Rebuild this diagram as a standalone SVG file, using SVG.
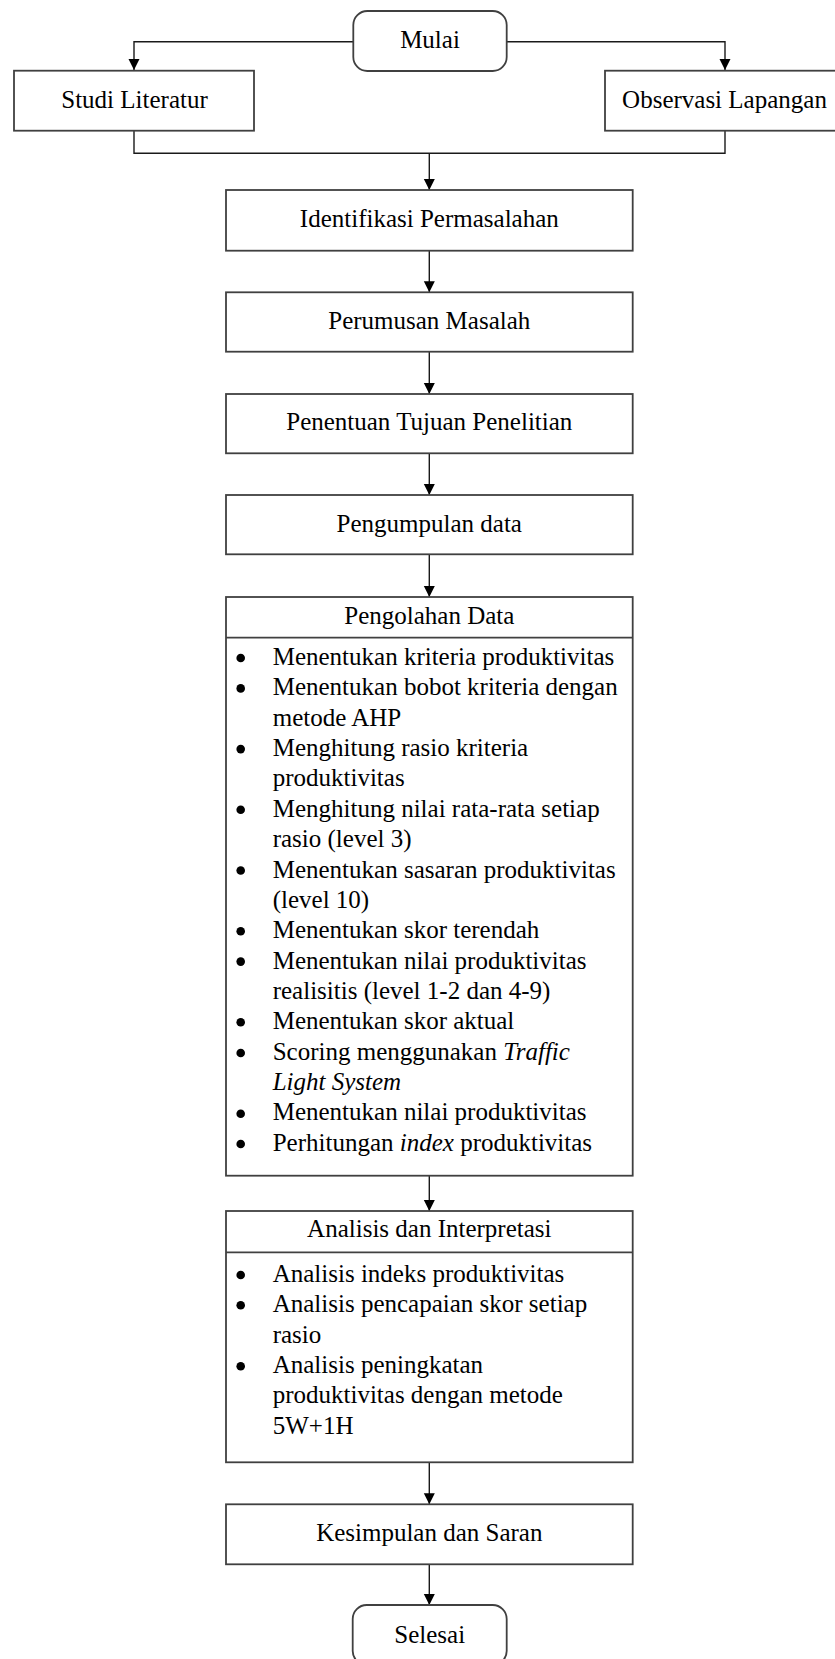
<svg xmlns="http://www.w3.org/2000/svg" width="835" height="1659" viewBox="0 0 835 1659" font-family="Liberation Serif, Times New Roman, DejaVu Serif, serif" font-size="25">
<style>
.box{fill:#fff;stroke:#404040;stroke-width:1.8}
.ln{fill:none;stroke:#1a1a1a;stroke-width:1.4}
text{fill:#000}
.c{text-anchor:middle}
.b{fill:#000}
</style>
<defs>
<marker id="ah" markerUnits="userSpaceOnUse" markerWidth="12" markerHeight="12" viewBox="0 0 12 12" refX="11" refY="6" orient="auto">
<path d="M0,0.5 L11,6 L0,11.5 Z" fill="#000"/>
</marker>
</defs>
<rect width="835" height="1659" fill="#fff"/>
<g id="connectors">
<path class="ln" d="M354 41.7 H134 V70" marker-end="url(#ah)"/>
<path class="ln" d="M506.7 41.7 H725 V70" marker-end="url(#ah)"/>
<path class="ln" d="M134 130.7 V153.3 H725 V130.7"/>
<path class="ln" d="M429.3 153.3 V190" marker-end="url(#ah)"/>
<path class="ln" d="M429.3 250.7 V292.3" marker-end="url(#ah)"/>
<path class="ln" d="M429.3 351.7 V394" marker-end="url(#ah)"/>
<path class="ln" d="M429.3 453.3 V495" marker-end="url(#ah)"/>
<path class="ln" d="M429.3 554.3 V597" marker-end="url(#ah)"/>
<path class="ln" d="M429.3 1175.7 V1211" marker-end="url(#ah)"/>
<path class="ln" d="M429.3 1462.3 V1504.3" marker-end="url(#ah)"/>
<path class="ln" d="M429.3 1564.3 V1605" marker-end="url(#ah)"/>
</g>
<g id="mulai">
<rect class="box" x="353.3" y="11" width="153.4" height="60" rx="14"/>
<text class="c" x="430" y="48.3">Mulai</text>
</g>
<g id="studi-literatur">
<rect class="box" x="14" y="70.7" width="240" height="60"/>
<text class="c" x="134.5" y="108.3">Studi Literatur</text>
</g>
<g id="observasi-lapangan">
<rect class="box" x="605" y="70.7" width="240" height="60"/>
<text class="c" x="724.5" y="108.3">Observasi Lapangan</text>
</g>
<g id="identifikasi">
<rect class="box" x="226" y="190" width="406.7" height="60.7"/>
<text class="c" x="429.3" y="226.7">Identifikasi Permasalahan</text>
</g>
<g id="perumusan">
<rect class="box" x="226" y="292.3" width="406.7" height="59.4"/>
<text class="c" x="429.3" y="328.5">Perumusan Masalah</text>
</g>
<g id="penentuan">
<rect class="box" x="226" y="394" width="406.7" height="59.3"/>
<text class="c" x="429.3" y="430.3">Penentuan Tujuan Penelitian</text>
</g>
<g id="pengumpulan">
<rect class="box" x="226" y="495" width="406.7" height="59.3"/>
<text class="c" x="429.3" y="532">Pengumpulan data</text>
</g>
<g id="pengolahan">
<rect class="box" x="226" y="597" width="406.7" height="578.7"/>
<line class="box" x1="226" y1="637.7" x2="632.7" y2="637.7"/>
<text class="c" x="429.3" y="624">Pengolahan Data</text>
<g class="b">
<circle cx="240.7" cy="658" r="4.3"/>
<circle cx="240.7" cy="688.4" r="4.3"/>
<circle cx="240.7" cy="749.1" r="4.3"/>
<circle cx="240.7" cy="809.8" r="4.3"/>
<circle cx="240.7" cy="870.5" r="4.3"/>
<circle cx="240.7" cy="931.2" r="4.3"/>
<circle cx="240.7" cy="961.6" r="4.3"/>
<circle cx="240.7" cy="1022.3" r="4.3"/>
<circle cx="240.7" cy="1053" r="4.3"/>
<circle cx="240.7" cy="1113.7" r="4.3"/>
<circle cx="240.7" cy="1144" r="4.3"/>
</g>
<text x="272.7" y="665">Menentukan kriteria produktivitas</text>
<text x="272.7" y="695.4">Menentukan bobot kriteria dengan</text>
<text x="272.7" y="725.7">metode AHP</text>
<text x="272.7" y="756.1">Menghitung rasio kriteria</text>
<text x="272.7" y="786.4">produktivitas</text>
<text x="272.7" y="816.8">Menghitung nilai rata-rata setiap</text>
<text x="272.7" y="847.2">rasio (level 3)</text>
<text x="272.7" y="877.5">Menentukan sasaran produktivitas</text>
<text x="272.7" y="907.9">(level 10)</text>
<text x="272.7" y="938.2">Menentukan skor terendah</text>
<text x="272.7" y="968.6">Menentukan nilai produktivitas</text>
<text x="272.7" y="999">realisitis (level 1-2 dan 4-9)</text>
<text x="272.7" y="1029.3">Menentukan skor aktual</text>
<text x="272.7" y="1059.7">Scoring menggunakan <tspan font-style="italic">Traffic</tspan></text>
<text x="272.7" y="1090" font-style="italic">Light System</text>
<text x="272.7" y="1120.4">Menentukan nilai produktivitas</text>
<text x="272.7" y="1150.7">Perhitungan <tspan font-style="italic">index</tspan> produktivitas</text>
</g>
<g id="analisis">
<rect class="box" x="226" y="1211" width="406.7" height="251.3"/>
<line class="box" x1="226" y1="1252.3" x2="632.7" y2="1252.3"/>
<text class="c" x="429.3" y="1237.3">Analisis dan Interpretasi</text>
<g class="b">
<circle cx="240.7" cy="1275" r="4.3"/>
<circle cx="240.7" cy="1305.3" r="4.3"/>
<circle cx="240.7" cy="1366.3" r="4.3"/>
</g>
<text x="272.7" y="1281.7">Analisis indeks produktivitas</text>
<text x="272.7" y="1312.2">Analisis pencapaian skor setiap</text>
<text x="272.7" y="1342.6">rasio</text>
<text x="272.7" y="1373">Analisis peningkatan</text>
<text x="272.7" y="1403.3">produktivitas dengan metode</text>
<text x="272.7" y="1433.6">5W+1H</text>
</g>
<g id="kesimpulan">
<rect class="box" x="226" y="1504.3" width="406.7" height="60"/>
<text class="c" x="429.3" y="1540.7">Kesimpulan dan Saran</text>
</g>
<g id="selesai">
<rect class="box" x="352.7" y="1605" width="154" height="60" rx="14"/>
<text class="c" x="429.7" y="1642.7">Selesai</text>
</g>
</svg>
